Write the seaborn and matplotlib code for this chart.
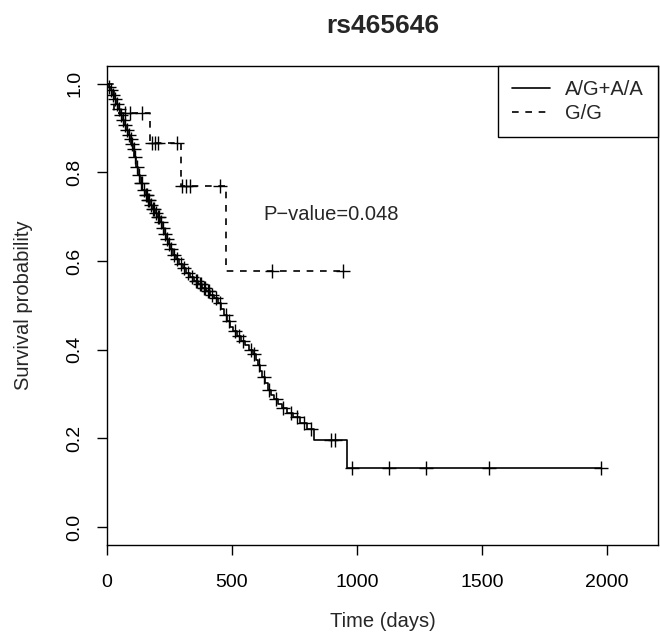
"""
Kaplan-Meier style survival plot for rs465646 (A/G+A/A vs G/G).
"""

import numpy as np
import pandas as pd
import matplotlib
matplotlib.use("Agg")
import matplotlib.pyplot as plt
import seaborn as sns

# A/G+A/A group: event times (days) and survival just after each event
ag_event_days = [8, 15, 22, 30, 38, 45, 52, 60, 68, 76, 84, 92, 98, 104, 110, 116,
                 124, 132, 142, 152, 162, 172, 182, 192, 202, 212, 220, 228, 236,
                 244, 252, 264, 276, 290, 304, 318, 334, 350, 366, 382, 398, 414,
                 430, 446, 458, 470, 482, 494, 506, 520, 536, 552, 568, 584, 598,
                 606, 614, 622, 632, 644, 656, 668, 684, 700, 720, 745, 772, 800,
                 828, 960]
ag_event_surv = [0.993, 0.985, 0.975, 0.965, 0.955, 0.943, 0.930, 0.918, 0.906,
                 0.895, 0.885, 0.875, 0.865, 0.852, 0.835, 0.812, 0.795, 0.776,
                 0.760, 0.748, 0.737, 0.727, 0.718, 0.709, 0.699, 0.688, 0.675,
                 0.662, 0.650, 0.638, 0.627, 0.614, 0.604, 0.594, 0.584, 0.574,
                 0.565, 0.556, 0.548, 0.540, 0.532, 0.524, 0.516, 0.505, 0.492,
                 0.478, 0.465, 0.452, 0.442, 0.432, 0.420, 0.410, 0.400, 0.390,
                 0.378, 0.366, 0.352, 0.338, 0.324, 0.310, 0.298, 0.288, 0.278,
                 0.268, 0.258, 0.248, 0.235, 0.222, 0.196, 0.134]
ag_censor_days = [10, 18, 26, 33, 40, 48, 55, 63, 72, 80, 88, 95, 101, 107, 113,
                  120, 128, 136, 140, 148, 156, 160, 166, 170, 178, 186, 190, 196,
                  205, 210, 216, 225, 232, 240, 248, 258, 268, 280, 296, 310, 324,
                  340, 355, 362, 372, 378, 388, 394, 405, 410, 420, 436, 452, 475,
                  490, 512, 530, 545, 575, 590, 610, 628, 650, 675, 705, 735, 760,
                  790, 815, 895, 912, 982, 1128, 1276, 1528, 1976]

# G/G group
gg_event_days = [30, 172, 295, 475]
gg_event_surv = [0.933, 0.867, 0.770, 0.578]
gg_censor_days = [72, 92, 139, 179, 192, 205, 279, 299, 316, 332, 452, 659, 945]

p_text = "P\u2212value=0.048"


def step_table(event_days, event_surv, end_day):
    days = [0] + list(event_days) + [end_day]
    surv = [1.0] + list(event_surv) + [event_surv[-1]]
    return pd.DataFrame({"days": days, "surv": surv})


def censor_table(event_days, event_surv, censor_days):
    ev = np.asarray(event_days)
    sv = np.asarray([1.0] + list(event_surv))
    idx = np.searchsorted(ev, censor_days, side="right")
    return pd.DataFrame({"days": censor_days, "surv": sv[idx]})


sns.set_style("ticks")
plt.rcParams["font.family"] = ["Liberation Sans", "DejaVu Sans"]

fig = plt.figure(figsize=(6.6, 6.41), dpi=100)
ax = fig.add_axes([0.162, 0.150, 0.835, 0.747])

ag_line = step_table(ag_event_days, ag_event_surv, ag_censor_days[-1])
gg_line = step_table(gg_event_days, gg_event_surv, gg_censor_days[-1])

sns.lineplot(data=ag_line, x="days", y="surv", ax=ax, color="black", lw=1.2,
             drawstyle="steps-post", label="A/G+A/A", sort=False)
sns.lineplot(data=gg_line, x="days", y="surv", ax=ax, color="black", lw=1.2,
             drawstyle="steps-post", linestyle=(0, (4, 4)), label="G/G", sort=False)

for ev, sv, cd in [(ag_event_days, ag_event_surv, ag_censor_days),
                   (gg_event_days, gg_event_surv, gg_censor_days)]:
    sns.scatterplot(data=censor_table(ev, sv, cd), x="days", y="surv", ax=ax,
                    marker="+", s=110, color="black", linewidth=1.0, legend=False)

ax.set_xlim(0, 2204)
ax.set_ylim(-0.04, 1.04)
ax.set_xticks([0, 500, 1000, 1500, 2000])
ax.set_yticks([0.0, 0.2, 0.4, 0.6, 0.8, 1.0])
ax.set_yticklabels(["0.0", "0.2", "0.4", "0.6", "0.8", "1.0"], rotation=90, va="center")
ax.tick_params(direction="out", length=7, width=1, labelsize=14, colors="black")
ax.tick_params(axis="x", pad=14)
ax.tick_params(axis="y", pad=10)

for s in ax.spines.values():
    s.set_visible(True)
    s.set_color("black")
    s.set_linewidth(1)

ax.set_xlabel("Time (days)", fontsize=14.5, labelpad=15)
ax.set_ylabel("Survival probability", fontsize=14.5, labelpad=24)
ax.set_title("rs465646", fontsize=19, fontweight="bold", pad=24)

ax.text(898, 0.704, p_text, fontsize=14.5, ha="center", va="center")

leg = ax.legend(loc="upper right", borderaxespad=0, fancybox=False, edgecolor="black",
                framealpha=1, fontsize=14.5, handlelength=1.9, borderpad=0.7,
                labelspacing=0.25, handletextpad=0.75)
leg.get_frame().set_linewidth(1)

fig.savefig("out.png", dpi=100)
